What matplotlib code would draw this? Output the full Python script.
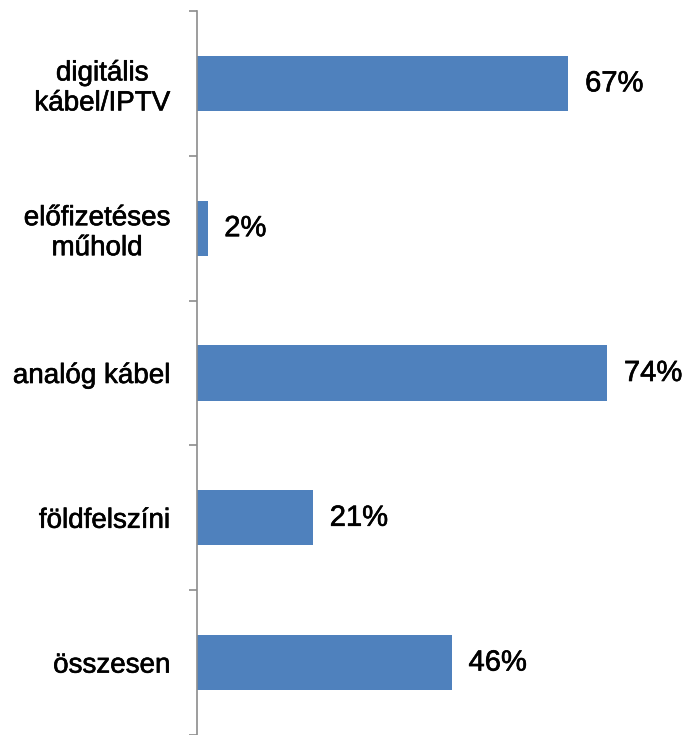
import matplotlib
matplotlib.use('Agg')
import matplotlib.pyplot as plt
import matplotlib.patheffects as pe

# ── 数据 ──
categories = ['digitális\nkábel/IPTV', 'előfizetéses\nműhold', 'analóg kábel', 'földfelszíni', 'összesen']
values = [67, 2, 74, 21, 46]
value_labels = ['67%', '2%', '74%', '21%', '46%']

BAR_BLUE = '#4F81BD'
AXIS_GRAY = '#8c8c8c'

plt.rcParams['font.family'] = ['Liberation Sans', 'DejaVu Sans']

fig = plt.figure(figsize=(6.85, 7.35), dpi=100)
ax = fig.add_axes([196.5 / 685, 0, 488.5 / 685, 1 - 11 / 735])

# 略加粗文字
bold_fx = [pe.withStroke(linewidth=0.45, foreground='black')]

ypos = list(range(len(categories)))
ax.barh(ypos, values, height=0.38, color=BAR_BLUE, zorder=2)

for y, v, lab in zip(ypos, values, value_labels):
    ax.text(v + 3.0, y, lab, ha='left', va='center', fontsize=21, color='black',
            path_effects=bold_fx)

ax.set_xlim(0, 88)
ax.set_ylim(len(categories) - 0.5, -0.5)

# 类别边界刻度
ax.set_yticks([i - 0.5 for i in range(len(categories) + 1)])
ax.set_yticklabels([])
ax.set_yticks(ypos, minor=True)
ax.set_yticklabels(categories, minor=True, fontsize=20, ha='right', multialignment='center')
for t in ax.get_yticklabels(minor=True):
    t.set_path_effects(bold_fx)
ax.tick_params(axis='y', which='major', length=6, color=AXIS_GRAY, width=1.2)
ax.tick_params(axis='y', which='minor', length=0, pad=19)
ax.set_xticks([])

for s in ['top', 'right', 'bottom']:
    ax.spines[s].set_visible(False)
ax.spines['left'].set_color(AXIS_GRAY)
ax.spines['left'].set_linewidth(1.2)

fig.savefig('out.png', dpi=100, facecolor='white')
plt.close(fig)
